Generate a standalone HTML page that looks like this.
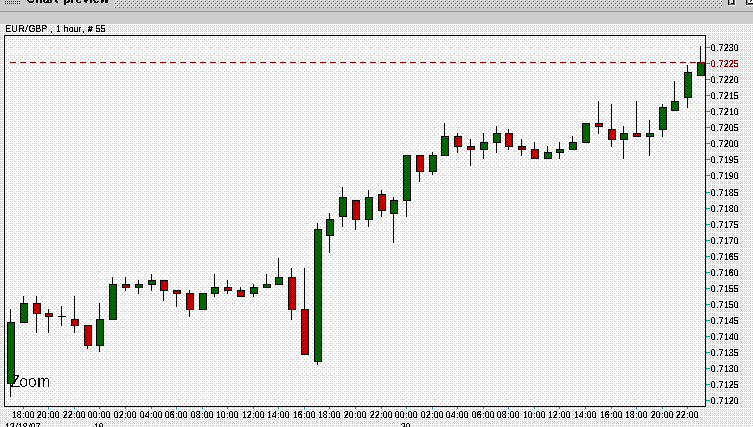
<!DOCTYPE html>
<html lang="en"><head><meta charset="utf-8"><title>Chart preview</title>
<style>html,body{margin:0;padding:0;background:#ccc;overflow:hidden}svg{display:block}text{font-family:"Liberation Sans","DejaVu Sans",sans-serif;fill:#000}.s{font-size:8.6px}.b{font-weight:bold;font-size:12px}.z{font-size:17px}</style></head><body>
<svg width="753" height="427" viewBox="0 0 753 427" shape-rendering="crispEdges">
<defs>
<pattern id="po" width="8" height="8" patternUnits="userSpaceOnUse"><rect width="8" height="8" fill="#fff"/><rect x="0" y="1" width="1" height="1" fill="#ccc"/><rect x="2" y="1" width="1" height="1" fill="#ccc"/><rect x="4" y="1" width="1" height="1" fill="#ccc"/><rect x="6" y="1" width="1" height="1" fill="#ccc"/><rect x="5" y="2" width="1" height="1" fill="#ccc"/><rect x="0" y="3" width="1" height="1" fill="#ccc"/><rect x="2" y="3" width="1" height="1" fill="#ccc"/><rect x="4" y="3" width="1" height="1" fill="#ccc"/><rect x="6" y="3" width="1" height="1" fill="#ccc"/><rect x="0" y="5" width="1" height="1" fill="#ccc"/><rect x="2" y="5" width="1" height="1" fill="#ccc"/><rect x="4" y="5" width="1" height="1" fill="#ccc"/><rect x="6" y="5" width="1" height="1" fill="#ccc"/><rect x="1" y="6" width="1" height="1" fill="#ccc"/><rect x="5" y="6" width="1" height="1" fill="#ccc"/><rect x="0" y="7" width="1" height="1" fill="#ccc"/><rect x="2" y="7" width="1" height="1" fill="#ccc"/><rect x="4" y="7" width="1" height="1" fill="#ccc"/><rect x="6" y="7" width="1" height="1" fill="#ccc"/></pattern>
<pattern id="pi" width="8" height="8" patternUnits="userSpaceOnUse"><rect width="8" height="8" fill="#fff"/><rect x="2" y="1" width="1" height="1" fill="#ccc"/><rect x="6" y="1" width="1" height="1" fill="#ccc"/><rect x="0" y="3" width="1" height="1" fill="#ccc"/><rect x="4" y="3" width="1" height="1" fill="#ccc"/><rect x="2" y="5" width="1" height="1" fill="#ccc"/><rect x="6" y="5" width="1" height="1" fill="#ccc"/><rect x="0" y="7" width="1" height="1" fill="#ccc"/><rect x="2" y="7" width="1" height="1" fill="#ccc"/><rect x="4" y="7" width="1" height="1" fill="#ccc"/></pattern>
<pattern id="pr" width="2" height="2" patternUnits="userSpaceOnUse"><rect width="2" height="2" fill="#c00"/><rect x="1" y="0" width="1" height="1" fill="#900"/><rect x="0" y="1" width="1" height="1" fill="#900"/></pattern>
<pattern id="pb" width="4" height="4" patternUnits="userSpaceOnUse"><rect width="4" height="4" fill="#ccc"/><rect x="0" y="0" width="1" height="1" fill="#fff"/><rect x="2" y="2" width="1" height="1" fill="#fff"/><rect x="1" y="1" width="1" height="1" fill="#666"/><rect x="3" y="3" width="1" height="1" fill="#666"/></pattern>
<filter id="t" filterUnits="userSpaceOnUse" x="0" y="0" width="753" height="427" color-interpolation-filters="sRGB"><feComponentTransfer><feFuncA type="discrete" tableValues="0 0 1 1 1 1"/></feComponentTransfer></filter>
<filter id="t3" filterUnits="userSpaceOnUse" x="0" y="0" width="200" height="12" color-interpolation-filters="sRGB"><feComponentTransfer><feFuncA type="discrete" tableValues="0 0 1 1 1"/></feComponentTransfer></filter>
<filter id="t2" filterUnits="userSpaceOnUse" x="0" y="360" width="80" height="40" color-interpolation-filters="sRGB"><feComponentTransfer><feFuncA type="discrete" tableValues="0 0 0 1 1"/></feComponentTransfer></filter>
</defs>
<rect x="0" y="0" width="753" height="24" fill="#ccc"/>
<rect x="0" y="11" width="753" height="1" fill="#999"/>
<rect x="5" y="1" width="1" height="1" fill="#333"/>
<rect x="7" y="1" width="1" height="1" fill="#333"/>
<rect x="9" y="1" width="1" height="1" fill="#333"/>
<rect x="11" y="1" width="1" height="1" fill="#333"/>
<rect x="13" y="1" width="1" height="1" fill="#333"/>
<rect x="15" y="1" width="1" height="1" fill="#333"/>
<rect x="17" y="1" width="1" height="1" fill="#333"/>
<rect x="19" y="1" width="1" height="1" fill="#333"/>
<rect x="5" y="3" width="1" height="1" fill="#333"/>
<rect x="7" y="3" width="1" height="1" fill="#333"/>
<rect x="9" y="3" width="1" height="1" fill="#333"/>
<rect x="11" y="3" width="1" height="1" fill="#333"/>
<rect x="13" y="3" width="1" height="1" fill="#333"/>
<rect x="15" y="3" width="1" height="1" fill="#333"/>
<rect x="17" y="3" width="1" height="1" fill="#333"/>
<rect x="19" y="3" width="1" height="1" fill="#333"/>
<rect x="114" y="0" width="608" height="8" fill="url(#pb)"/>
<rect x="728" y="0" width="1" height="5" fill="#000"/><rect x="729" y="0" width="1" height="4" fill="#999"/><rect x="730" y="0" width="3" height="3" fill="#fff"/><rect x="731" y="1" width="1" height="1" fill="#ccc"/><rect x="730" y="3" width="1" height="1" fill="#999"/><rect x="731" y="3" width="3" height="1" fill="#000"/><rect x="733" y="0" width="1" height="3" fill="#000"/><rect x="734" y="0" width="1" height="5" fill="#666"/><rect x="729" y="4" width="5" height="1" fill="#666"/><rect x="735" y="0" width="1" height="6" fill="#fff"/><rect x="729" y="5" width="6" height="1" fill="#fff"/>
<rect x="746" y="0" width="1" height="5" fill="#000"/><rect x="747" y="0" width="1" height="4" fill="#999"/><rect x="748" y="0" width="5" height="3" fill="#fff"/><rect x="750" y="0" width="2" height="1" fill="#444"/><rect x="750" y="1" width="1" height="1" fill="#666"/><rect x="748" y="3" width="5" height="1" fill="#000"/><rect x="747" y="4" width="6" height="1" fill="#666"/><rect x="747" y="5" width="6" height="1" fill="#fff"/>
<rect x="0" y="24" width="753" height="403" fill="url(#po)"/>
<rect x="4" y="35" width="702" height="372" fill="#000"/>
<rect x="5" y="36" width="700" height="370" fill="url(#pi)"/>
<rect x="10" y="309" width="1" height="13" fill="#000"/>
<rect x="10" y="384" width="1" height="13" fill="#000"/>
<rect x="7" y="322" width="8" height="62" fill="#000"/>
<rect x="8" y="323" width="6" height="60" fill="#060"/>
<rect x="23" y="296" width="1" height="7" fill="#000"/>
<rect x="20" y="303" width="8" height="20" fill="#000"/>
<rect x="21" y="304" width="6" height="18" fill="#060"/>
<rect x="36" y="296" width="1" height="7" fill="#000"/>
<rect x="36" y="314" width="1" height="19" fill="#000"/>
<rect x="33" y="303" width="8" height="11" fill="#000"/>
<rect x="34" y="304" width="6" height="9" fill="url(#pr)"/>
<rect x="48" y="309" width="1" height="4" fill="#000"/>
<rect x="48" y="317" width="1" height="16" fill="#000"/>
<rect x="45" y="313" width="8" height="4" fill="#000"/>
<rect x="46" y="314" width="6" height="2" fill="url(#pr)"/>
<rect x="61" y="306" width="1" height="10" fill="#000"/>
<rect x="61" y="317" width="1" height="9" fill="#000"/>
<rect x="58" y="316" width="8" height="1" fill="#000"/>
<rect x="74" y="296" width="1" height="23" fill="#000"/>
<rect x="74" y="326" width="1" height="7" fill="#000"/>
<rect x="71" y="319" width="8" height="7" fill="#000"/>
<rect x="72" y="320" width="6" height="5" fill="url(#pr)"/>
<rect x="87" y="346" width="1" height="3" fill="#000"/>
<rect x="84" y="325" width="8" height="21" fill="#000"/>
<rect x="85" y="326" width="6" height="19" fill="url(#pr)"/>
<rect x="99" y="303" width="1" height="16" fill="#000"/>
<rect x="99" y="346" width="1" height="6" fill="#000"/>
<rect x="96" y="319" width="8" height="27" fill="#000"/>
<rect x="97" y="320" width="6" height="25" fill="#060"/>
<rect x="112" y="277" width="1" height="7" fill="#000"/>
<rect x="109" y="284" width="8" height="36" fill="#000"/>
<rect x="110" y="285" width="6" height="34" fill="#060"/>
<rect x="125" y="277" width="1" height="7" fill="#000"/>
<rect x="125" y="288" width="1" height="3" fill="#000"/>
<rect x="122" y="284" width="8" height="4" fill="#000"/>
<rect x="123" y="285" width="6" height="2" fill="url(#pr)"/>
<rect x="138" y="280" width="1" height="4" fill="#000"/>
<rect x="138" y="288" width="1" height="6" fill="#000"/>
<rect x="135" y="284" width="8" height="4" fill="#000"/>
<rect x="136" y="285" width="6" height="2" fill="#060"/>
<rect x="151" y="274" width="1" height="6" fill="#000"/>
<rect x="151" y="285" width="1" height="6" fill="#000"/>
<rect x="148" y="280" width="8" height="5" fill="#000"/>
<rect x="149" y="281" width="6" height="3" fill="#060"/>
<rect x="163" y="291" width="1" height="10" fill="#000"/>
<rect x="160" y="280" width="8" height="11" fill="#000"/>
<rect x="161" y="281" width="6" height="9" fill="url(#pr)"/>
<rect x="176" y="294" width="1" height="13" fill="#000"/>
<rect x="173" y="290" width="8" height="4" fill="#000"/>
<rect x="174" y="291" width="6" height="2" fill="url(#pr)"/>
<rect x="189" y="290" width="1" height="3" fill="#000"/>
<rect x="189" y="310" width="1" height="7" fill="#000"/>
<rect x="186" y="293" width="8" height="17" fill="#000"/>
<rect x="187" y="294" width="6" height="15" fill="url(#pr)"/>
<rect x="199" y="293" width="8" height="17" fill="#000"/>
<rect x="200" y="294" width="6" height="15" fill="#060"/>
<rect x="214" y="274" width="1" height="13" fill="#000"/>
<rect x="214" y="294" width="1" height="3" fill="#000"/>
<rect x="211" y="287" width="8" height="7" fill="#000"/>
<rect x="212" y="288" width="6" height="5" fill="#060"/>
<rect x="227" y="280" width="1" height="7" fill="#000"/>
<rect x="227" y="291" width="1" height="3" fill="#000"/>
<rect x="224" y="287" width="8" height="4" fill="#000"/>
<rect x="225" y="288" width="6" height="2" fill="url(#pr)"/>
<rect x="240" y="287" width="1" height="3" fill="#000"/>
<rect x="237" y="290" width="8" height="7" fill="#000"/>
<rect x="238" y="291" width="6" height="5" fill="url(#pr)"/>
<rect x="253" y="284" width="1" height="3" fill="#000"/>
<rect x="253" y="294" width="1" height="3" fill="#000"/>
<rect x="250" y="287" width="8" height="7" fill="#000"/>
<rect x="251" y="288" width="6" height="5" fill="#060"/>
<rect x="266" y="274" width="1" height="10" fill="#000"/>
<rect x="263" y="284" width="8" height="4" fill="#000"/>
<rect x="264" y="285" width="6" height="2" fill="#060"/>
<rect x="278" y="258" width="1" height="19" fill="#000"/>
<rect x="275" y="277" width="8" height="8" fill="#000"/>
<rect x="276" y="278" width="6" height="6" fill="#060"/>
<rect x="291" y="268" width="1" height="9" fill="#000"/>
<rect x="291" y="310" width="1" height="10" fill="#000"/>
<rect x="288" y="277" width="8" height="33" fill="#000"/>
<rect x="289" y="278" width="6" height="31" fill="url(#pr)"/>
<rect x="304" y="268" width="1" height="41" fill="#000"/>
<rect x="301" y="309" width="8" height="46" fill="#000"/>
<rect x="302" y="310" width="6" height="44" fill="url(#pr)"/>
<rect x="317" y="223" width="1" height="6" fill="#000"/>
<rect x="317" y="362" width="1" height="3" fill="#000"/>
<rect x="314" y="229" width="8" height="133" fill="#000"/>
<rect x="315" y="230" width="6" height="131" fill="#060"/>
<rect x="329" y="213" width="1" height="6" fill="#000"/>
<rect x="329" y="236" width="1" height="17" fill="#000"/>
<rect x="326" y="219" width="8" height="17" fill="#000"/>
<rect x="327" y="220" width="6" height="15" fill="#060"/>
<rect x="342" y="187" width="1" height="10" fill="#000"/>
<rect x="342" y="217" width="1" height="10" fill="#000"/>
<rect x="339" y="197" width="8" height="20" fill="#000"/>
<rect x="340" y="198" width="6" height="18" fill="#060"/>
<rect x="355" y="220" width="1" height="10" fill="#000"/>
<rect x="352" y="200" width="8" height="20" fill="#000"/>
<rect x="353" y="201" width="6" height="18" fill="url(#pr)"/>
<rect x="368" y="190" width="1" height="7" fill="#000"/>
<rect x="368" y="220" width="1" height="7" fill="#000"/>
<rect x="365" y="197" width="8" height="23" fill="#000"/>
<rect x="366" y="198" width="6" height="21" fill="#060"/>
<rect x="381" y="190" width="1" height="4" fill="#000"/>
<rect x="381" y="211" width="1" height="6" fill="#000"/>
<rect x="378" y="194" width="8" height="17" fill="#000"/>
<rect x="379" y="195" width="6" height="15" fill="url(#pr)"/>
<rect x="393" y="197" width="1" height="3" fill="#000"/>
<rect x="393" y="214" width="1" height="29" fill="#000"/>
<rect x="390" y="200" width="8" height="14" fill="#000"/>
<rect x="391" y="201" width="6" height="12" fill="#060"/>
<rect x="406" y="201" width="1" height="16" fill="#000"/>
<rect x="403" y="155" width="8" height="46" fill="#000"/>
<rect x="404" y="156" width="6" height="44" fill="#060"/>
<rect x="419" y="172" width="1" height="10" fill="#000"/>
<rect x="416" y="155" width="8" height="17" fill="#000"/>
<rect x="417" y="156" width="6" height="15" fill="url(#pr)"/>
<rect x="432" y="152" width="1" height="3" fill="#000"/>
<rect x="432" y="172" width="1" height="3" fill="#000"/>
<rect x="429" y="155" width="8" height="17" fill="#000"/>
<rect x="430" y="156" width="6" height="15" fill="#060"/>
<rect x="444" y="123" width="1" height="13" fill="#000"/>
<rect x="441" y="136" width="8" height="20" fill="#000"/>
<rect x="442" y="137" width="6" height="18" fill="#060"/>
<rect x="457" y="133" width="1" height="3" fill="#000"/>
<rect x="457" y="147" width="1" height="6" fill="#000"/>
<rect x="454" y="136" width="8" height="11" fill="#000"/>
<rect x="455" y="137" width="6" height="9" fill="url(#pr)"/>
<rect x="470" y="139" width="1" height="7" fill="#000"/>
<rect x="470" y="150" width="1" height="16" fill="#000"/>
<rect x="467" y="146" width="8" height="4" fill="#000"/>
<rect x="468" y="147" width="6" height="2" fill="url(#pr)"/>
<rect x="483" y="133" width="1" height="9" fill="#000"/>
<rect x="483" y="150" width="1" height="9" fill="#000"/>
<rect x="480" y="142" width="8" height="8" fill="#000"/>
<rect x="481" y="143" width="6" height="6" fill="#060"/>
<rect x="496" y="126" width="1" height="7" fill="#000"/>
<rect x="496" y="143" width="1" height="10" fill="#000"/>
<rect x="493" y="133" width="8" height="10" fill="#000"/>
<rect x="494" y="134" width="6" height="8" fill="#060"/>
<rect x="508" y="129" width="1" height="4" fill="#000"/>
<rect x="508" y="147" width="1" height="3" fill="#000"/>
<rect x="505" y="133" width="8" height="14" fill="#000"/>
<rect x="506" y="134" width="6" height="12" fill="url(#pr)"/>
<rect x="521" y="139" width="1" height="7" fill="#000"/>
<rect x="521" y="150" width="1" height="6" fill="#000"/>
<rect x="518" y="146" width="8" height="4" fill="#000"/>
<rect x="519" y="147" width="6" height="2" fill="url(#pr)"/>
<rect x="534" y="142" width="1" height="7" fill="#000"/>
<rect x="531" y="149" width="8" height="10" fill="#000"/>
<rect x="532" y="150" width="6" height="8" fill="url(#pr)"/>
<rect x="547" y="146" width="1" height="6" fill="#000"/>
<rect x="544" y="152" width="8" height="7" fill="#000"/>
<rect x="545" y="153" width="6" height="5" fill="#060"/>
<rect x="559" y="142" width="1" height="7" fill="#000"/>
<rect x="559" y="153" width="1" height="6" fill="#000"/>
<rect x="556" y="149" width="8" height="4" fill="#000"/>
<rect x="557" y="150" width="6" height="2" fill="#060"/>
<rect x="572" y="136" width="1" height="6" fill="#000"/>
<rect x="569" y="142" width="8" height="8" fill="#000"/>
<rect x="570" y="143" width="6" height="6" fill="#060"/>
<rect x="582" y="123" width="8" height="20" fill="#000"/>
<rect x="583" y="124" width="6" height="18" fill="#060"/>
<rect x="598" y="101" width="1" height="22" fill="#000"/>
<rect x="598" y="127" width="1" height="7" fill="#000"/>
<rect x="595" y="123" width="8" height="4" fill="#000"/>
<rect x="596" y="124" width="6" height="2" fill="url(#pr)"/>
<rect x="611" y="104" width="1" height="25" fill="#000"/>
<rect x="611" y="140" width="1" height="7" fill="#000"/>
<rect x="608" y="129" width="8" height="11" fill="#000"/>
<rect x="609" y="130" width="6" height="9" fill="url(#pr)"/>
<rect x="623" y="126" width="1" height="7" fill="#000"/>
<rect x="623" y="140" width="1" height="19" fill="#000"/>
<rect x="620" y="133" width="8" height="7" fill="#000"/>
<rect x="621" y="134" width="6" height="5" fill="#060"/>
<rect x="636" y="101" width="1" height="32" fill="#000"/>
<rect x="633" y="133" width="8" height="4" fill="#000"/>
<rect x="634" y="134" width="6" height="2" fill="url(#pr)"/>
<rect x="649" y="120" width="1" height="13" fill="#000"/>
<rect x="649" y="137" width="1" height="19" fill="#000"/>
<rect x="646" y="133" width="8" height="4" fill="#000"/>
<rect x="647" y="134" width="6" height="2" fill="#060"/>
<rect x="662" y="104" width="1" height="3" fill="#000"/>
<rect x="662" y="130" width="1" height="7" fill="#000"/>
<rect x="659" y="107" width="8" height="23" fill="#000"/>
<rect x="660" y="108" width="6" height="21" fill="#060"/>
<rect x="674" y="81" width="1" height="20" fill="#000"/>
<rect x="671" y="101" width="8" height="10" fill="#000"/>
<rect x="672" y="102" width="6" height="8" fill="#060"/>
<rect x="687" y="65" width="1" height="7" fill="#000"/>
<rect x="687" y="98" width="1" height="10" fill="#000"/>
<rect x="684" y="72" width="8" height="26" fill="#000"/>
<rect x="685" y="73" width="6" height="24" fill="#060"/>
<rect x="700" y="46" width="1" height="16" fill="#000"/>
<rect x="697" y="62" width="8" height="14" fill="#000"/>
<rect x="698" y="63" width="6" height="12" fill="#060"/>
<rect x="10" y="62" width="6" height="1" fill="#900"/>
<rect x="20" y="62" width="6" height="1" fill="#900"/>
<rect x="30" y="62" width="6" height="1" fill="#900"/>
<rect x="40" y="62" width="6" height="1" fill="#900"/>
<rect x="50" y="62" width="6" height="1" fill="#900"/>
<rect x="60" y="62" width="6" height="1" fill="#900"/>
<rect x="70" y="62" width="6" height="1" fill="#900"/>
<rect x="80" y="62" width="6" height="1" fill="#900"/>
<rect x="90" y="62" width="6" height="1" fill="#900"/>
<rect x="100" y="62" width="6" height="1" fill="#900"/>
<rect x="110" y="62" width="6" height="1" fill="#900"/>
<rect x="120" y="62" width="6" height="1" fill="#900"/>
<rect x="130" y="62" width="6" height="1" fill="#900"/>
<rect x="140" y="62" width="6" height="1" fill="#900"/>
<rect x="150" y="62" width="6" height="1" fill="#900"/>
<rect x="160" y="62" width="6" height="1" fill="#900"/>
<rect x="170" y="62" width="6" height="1" fill="#900"/>
<rect x="180" y="62" width="6" height="1" fill="#900"/>
<rect x="190" y="62" width="6" height="1" fill="#900"/>
<rect x="200" y="62" width="6" height="1" fill="#900"/>
<rect x="210" y="62" width="6" height="1" fill="#900"/>
<rect x="220" y="62" width="6" height="1" fill="#900"/>
<rect x="230" y="62" width="6" height="1" fill="#900"/>
<rect x="240" y="62" width="6" height="1" fill="#900"/>
<rect x="250" y="62" width="6" height="1" fill="#900"/>
<rect x="260" y="62" width="6" height="1" fill="#900"/>
<rect x="270" y="62" width="6" height="1" fill="#900"/>
<rect x="280" y="62" width="6" height="1" fill="#900"/>
<rect x="290" y="62" width="6" height="1" fill="#900"/>
<rect x="300" y="62" width="6" height="1" fill="#900"/>
<rect x="310" y="62" width="6" height="1" fill="#900"/>
<rect x="320" y="62" width="6" height="1" fill="#900"/>
<rect x="330" y="62" width="6" height="1" fill="#900"/>
<rect x="340" y="62" width="6" height="1" fill="#900"/>
<rect x="350" y="62" width="6" height="1" fill="#900"/>
<rect x="360" y="62" width="6" height="1" fill="#900"/>
<rect x="370" y="62" width="6" height="1" fill="#900"/>
<rect x="380" y="62" width="6" height="1" fill="#900"/>
<rect x="390" y="62" width="6" height="1" fill="#900"/>
<rect x="400" y="62" width="6" height="1" fill="#900"/>
<rect x="410" y="62" width="6" height="1" fill="#900"/>
<rect x="420" y="62" width="6" height="1" fill="#900"/>
<rect x="430" y="62" width="6" height="1" fill="#900"/>
<rect x="440" y="62" width="6" height="1" fill="#900"/>
<rect x="450" y="62" width="6" height="1" fill="#900"/>
<rect x="460" y="62" width="6" height="1" fill="#900"/>
<rect x="470" y="62" width="6" height="1" fill="#900"/>
<rect x="480" y="62" width="6" height="1" fill="#900"/>
<rect x="490" y="62" width="6" height="1" fill="#900"/>
<rect x="500" y="62" width="6" height="1" fill="#900"/>
<rect x="510" y="62" width="6" height="1" fill="#900"/>
<rect x="520" y="62" width="6" height="1" fill="#900"/>
<rect x="530" y="62" width="6" height="1" fill="#900"/>
<rect x="540" y="62" width="6" height="1" fill="#900"/>
<rect x="550" y="62" width="6" height="1" fill="#900"/>
<rect x="560" y="62" width="6" height="1" fill="#900"/>
<rect x="570" y="62" width="6" height="1" fill="#900"/>
<rect x="580" y="62" width="6" height="1" fill="#900"/>
<rect x="590" y="62" width="6" height="1" fill="#900"/>
<rect x="600" y="62" width="6" height="1" fill="#900"/>
<rect x="610" y="62" width="6" height="1" fill="#900"/>
<rect x="620" y="62" width="6" height="1" fill="#900"/>
<rect x="630" y="62" width="6" height="1" fill="#900"/>
<rect x="640" y="62" width="6" height="1" fill="#900"/>
<rect x="650" y="62" width="6" height="1" fill="#900"/>
<rect x="660" y="62" width="6" height="1" fill="#900"/>
<rect x="670" y="62" width="6" height="1" fill="#900"/>
<rect x="680" y="62" width="6" height="1" fill="#900"/>
<rect x="690" y="62" width="6" height="1" fill="#900"/>
<rect x="700" y="62" width="5" height="1" fill="#900"/>
<rect x="706" y="47" width="4" height="1" fill="#099"/>
<rect x="706" y="63" width="4" height="1" fill="#099"/>
<rect x="706" y="79" width="4" height="1" fill="#099"/>
<rect x="706" y="95" width="4" height="1" fill="#099"/>
<rect x="706" y="111" width="4" height="1" fill="#099"/>
<rect x="706" y="127" width="4" height="1" fill="#099"/>
<rect x="706" y="143" width="4" height="1" fill="#099"/>
<rect x="706" y="159" width="4" height="1" fill="#099"/>
<rect x="706" y="175" width="4" height="1" fill="#099"/>
<rect x="706" y="192" width="4" height="1" fill="#099"/>
<rect x="706" y="208" width="4" height="1" fill="#099"/>
<rect x="706" y="224" width="4" height="1" fill="#099"/>
<rect x="706" y="240" width="4" height="1" fill="#099"/>
<rect x="706" y="256" width="4" height="1" fill="#099"/>
<rect x="706" y="272" width="4" height="1" fill="#099"/>
<rect x="706" y="288" width="4" height="1" fill="#099"/>
<rect x="706" y="304" width="4" height="1" fill="#099"/>
<rect x="706" y="320" width="4" height="1" fill="#099"/>
<rect x="706" y="336" width="4" height="1" fill="#099"/>
<rect x="706" y="352" width="4" height="1" fill="#099"/>
<rect x="706" y="368" width="4" height="1" fill="#099"/>
<rect x="706" y="384" width="4" height="1" fill="#099"/>
<rect x="706" y="400" width="4" height="1" fill="#099"/>
<rect x="23" y="407" width="1" height="2" fill="#099"/>
<rect x="48" y="407" width="1" height="2" fill="#099"/>
<rect x="74" y="407" width="1" height="2" fill="#099"/>
<rect x="99" y="407" width="1" height="2" fill="#099"/>
<rect x="125" y="407" width="1" height="2" fill="#099"/>
<rect x="151" y="407" width="1" height="2" fill="#099"/>
<rect x="176" y="407" width="1" height="2" fill="#099"/>
<rect x="202" y="407" width="1" height="2" fill="#099"/>
<rect x="227" y="407" width="1" height="2" fill="#099"/>
<rect x="253" y="407" width="1" height="2" fill="#099"/>
<rect x="278" y="407" width="1" height="2" fill="#099"/>
<rect x="304" y="407" width="1" height="2" fill="#099"/>
<rect x="329" y="407" width="1" height="2" fill="#099"/>
<rect x="355" y="407" width="1" height="2" fill="#099"/>
<rect x="381" y="407" width="1" height="2" fill="#099"/>
<rect x="406" y="407" width="1" height="2" fill="#099"/>
<rect x="432" y="407" width="1" height="2" fill="#099"/>
<rect x="457" y="407" width="1" height="2" fill="#099"/>
<rect x="483" y="407" width="1" height="2" fill="#099"/>
<rect x="508" y="407" width="1" height="2" fill="#099"/>
<rect x="534" y="407" width="1" height="2" fill="#099"/>
<rect x="559" y="407" width="1" height="2" fill="#099"/>
<rect x="585" y="407" width="1" height="2" fill="#099"/>
<rect x="611" y="407" width="1" height="2" fill="#099"/>
<rect x="636" y="407" width="1" height="2" fill="#099"/>
<rect x="662" y="407" width="1" height="2" fill="#099"/>
<rect x="687" y="407" width="1" height="2" fill="#099"/>
<g filter="url(#t)">
<text class="s" transform="translate(0,32) matrix(1,0,0.001,1.16,0,0)" x="5.39 11.44 18.39 25.1 28.67 35.39 41.39 43.39 50.33 52.33 55.95 57.95 63.5 68.74 73.54 78.53 82.33 84.33 88.06 90.06 95.76 100.76" y="0" rotate="0 0 0 7 0 0 0 0 0 0 0 0 0 0 0 0 0 0 0 0 0 0">EUR/GBP , 1 hour, <tspan style="font-weight:bold">#</tspan> 55</text>
<text class="s" transform="translate(0,51) matrix(1,0,0.001,1.16,0,0)" x="710.76 716.31 718.66 723.67 728.77 733.76" y="0">0.7230</text>
<text class="s" transform="translate(0,67) matrix(1,0,0.001,1.16,0,0)" x="710.76 716.31 718.66 723.67 728.67 733.76" y="0" style="fill:#900">0.7225</text>
<text class="s" transform="translate(0,83) matrix(1,0,0.001,1.16,0,0)" x="710.76 716.31 718.66 723.67 728.67 733.76" y="0">0.7220</text>
<text class="s" transform="translate(0,99) matrix(1,0,0.001,1.16,0,0)" x="710.76 716.31 718.66 723.67 728.95 733.76" y="0">0.7215</text>
<text class="s" transform="translate(0,115) matrix(1,0,0.001,1.16,0,0)" x="710.76 716.31 718.66 723.67 728.95 733.76" y="0">0.7210</text>
<text class="s" transform="translate(0,131) matrix(1,0,0.001,1.16,0,0)" x="710.76 716.31 718.66 723.67 728.76 733.76" y="0">0.7205</text>
<text class="s" transform="translate(0,147) matrix(1,0,0.001,1.16,0,0)" x="710.76 716.31 718.66 723.67 728.76 733.76" y="0">0.7200</text>
<text class="s" transform="translate(0,163) matrix(1,0,0.001,1.16,0,0)" x="710.76 716.31 718.66 723.95 728.7 733.76" y="0">0.7195</text>
<text class="s" transform="translate(0,179) matrix(1,0,0.001,1.16,0,0)" x="710.76 716.31 718.66 723.95 728.7 733.76" y="0">0.7190</text>
<text class="s" transform="translate(0,196) matrix(1,0,0.001,1.16,0,0)" x="710.76 716.31 718.66 723.95 728.73 733.76" y="0">0.7185</text>
<text class="s" transform="translate(0,212) matrix(1,0,0.001,1.16,0,0)" x="710.76 716.31 718.66 723.95 728.73 733.76" y="0">0.7180</text>
<text class="s" transform="translate(0,228) matrix(1,0,0.001,1.16,0,0)" x="710.76 716.31 718.66 723.95 728.66 733.76" y="0">0.7175</text>
<text class="s" transform="translate(0,244) matrix(1,0,0.001,1.16,0,0)" x="710.76 716.31 718.66 723.95 728.66 733.76" y="0">0.7170</text>
<text class="s" transform="translate(0,260) matrix(1,0,0.001,1.16,0,0)" x="710.76 716.31 718.66 723.95 728.66 733.76" y="0">0.7165</text>
<text class="s" transform="translate(0,276) matrix(1,0,0.001,1.16,0,0)" x="710.76 716.31 718.66 723.95 728.66 733.76" y="0">0.7160</text>
<text class="s" transform="translate(0,292) matrix(1,0,0.001,1.16,0,0)" x="710.76 716.31 718.66 723.95 728.76 733.76" y="0">0.7155</text>
<text class="s" transform="translate(0,308) matrix(1,0,0.001,1.16,0,0)" x="710.76 716.31 718.66 723.95 728.76 733.76" y="0">0.7150</text>
<text class="s" transform="translate(0,324) matrix(1,0,0.001,1.16,0,0)" x="710.76 716.31 718.66 723.95 728.9 733.76" y="0">0.7145</text>
<text class="s" transform="translate(0,340) matrix(1,0,0.001,1.16,0,0)" x="710.76 716.31 718.66 723.95 728.9 733.76" y="0">0.7140</text>
<text class="s" transform="translate(0,356) matrix(1,0,0.001,1.16,0,0)" x="710.76 716.31 718.66 723.95 728.77 733.76" y="0">0.7135</text>
<text class="s" transform="translate(0,372) matrix(1,0,0.001,1.16,0,0)" x="710.76 716.31 718.66 723.95 728.77 733.76" y="0">0.7130</text>
<text class="s" transform="translate(0,388) matrix(1,0,0.001,1.16,0,0)" x="710.76 716.31 718.66 723.95 728.67 733.76" y="0">0.7125</text>
<text class="s" transform="translate(0,404) matrix(1,0,0.001,1.16,0,0)" x="710.76 716.31 718.66 723.95 728.67 733.76" y="0">0.7120</text>
<text class="s" transform="translate(0,418) matrix(1,0,0.001,1.16,0,0)" x="11.95 16.73 22.31 24.76 29.76" y="0">18:00</text>
<text class="s" transform="translate(0,418) matrix(1,0,0.001,1.16,0,0)" x="36.67 41.76 47.31 49.76 54.76" y="0">20:00</text>
<text class="s" transform="translate(0,418) matrix(1,0,0.001,1.16,0,0)" x="62.67 67.67 73.31 75.76 80.76" y="0">22:00</text>
<text class="s" transform="translate(0,418) matrix(1,0,0.001,1.16,0,0)" x="87.76 92.76 98.31 100.76 105.76" y="0">00:00</text>
<text class="s" transform="translate(0,418) matrix(1,0,0.001,1.16,0,0)" x="113.76 118.67 124.31 126.76 131.76" y="0">02:00</text>
<text class="s" transform="translate(0,418) matrix(1,0,0.001,1.16,0,0)" x="139.76 144.9 150.31 152.76 157.76" y="0">04:00</text>
<text class="s" transform="translate(0,418) matrix(1,0,0.001,1.16,0,0)" x="164.76 169.66 175.31 177.76 182.76" y="0">06:00</text>
<text class="s" transform="translate(0,418) matrix(1,0,0.001,1.16,0,0)" x="190.76 195.73 201.31 203.76 208.76" y="0">08:00</text>
<text class="s" transform="translate(0,418) matrix(1,0,0.001,1.16,0,0)" x="215.95 220.76 226.31 228.76 233.76" y="0">10:00</text>
<text class="s" transform="translate(0,418) matrix(1,0,0.001,1.16,0,0)" x="241.95 246.67 252.31 254.76 259.76" y="0">12:00</text>
<text class="s" transform="translate(0,418) matrix(1,0,0.001,1.16,0,0)" x="266.95 271.9 277.31 279.76 284.76" y="0">14:00</text>
<text class="s" transform="translate(0,418) matrix(1,0,0.001,1.16,0,0)" x="292.95 297.66 303.31 305.76 310.76" y="0">16:00</text>
<text class="s" transform="translate(0,418) matrix(1,0,0.001,1.16,0,0)" x="317.95 322.73 328.31 330.76 335.76" y="0">18:00</text>
<text class="s" transform="translate(0,418) matrix(1,0,0.001,1.16,0,0)" x="343.67 348.76 354.31 356.76 361.76" y="0">20:00</text>
<text class="s" transform="translate(0,418) matrix(1,0,0.001,1.16,0,0)" x="369.67 374.67 380.31 382.76 387.76" y="0">22:00</text>
<text class="s" transform="translate(0,418) matrix(1,0,0.001,1.16,0,0)" x="394.76 399.76 405.31 407.76 412.76" y="0">00:00</text>
<text class="s" transform="translate(0,418) matrix(1,0,0.001,1.16,0,0)" x="420.76 425.67 431.31 433.76 438.76" y="0">02:00</text>
<text class="s" transform="translate(0,418) matrix(1,0,0.001,1.16,0,0)" x="445.76 450.9 456.31 458.76 463.76" y="0">04:00</text>
<text class="s" transform="translate(0,418) matrix(1,0,0.001,1.16,0,0)" x="471.76 476.66 482.31 484.76 489.76" y="0">06:00</text>
<text class="s" transform="translate(0,418) matrix(1,0,0.001,1.16,0,0)" x="496.76 501.73 507.31 509.76 514.76" y="0">08:00</text>
<text class="s" transform="translate(0,418) matrix(1,0,0.001,1.16,0,0)" x="522.95 527.76 533.31 535.76 540.76" y="0">10:00</text>
<text class="s" transform="translate(0,418) matrix(1,0,0.001,1.16,0,0)" x="547.95 552.67 558.31 560.76 565.76" y="0">12:00</text>
<text class="s" transform="translate(0,418) matrix(1,0,0.001,1.16,0,0)" x="573.95 578.9 584.31 586.76 591.76" y="0">14:00</text>
<text class="s" transform="translate(0,418) matrix(1,0,0.001,1.16,0,0)" x="599.95 604.66 610.31 612.76 617.76" y="0">16:00</text>
<text class="s" transform="translate(0,418) matrix(1,0,0.001,1.16,0,0)" x="624.95 629.73 635.31 637.76 642.76" y="0">18:00</text>
<text class="s" transform="translate(0,418) matrix(1,0,0.001,1.16,0,0)" x="650.67 655.76 661.31 663.76 668.76" y="0">20:00</text>
<text class="s" transform="translate(0,418) matrix(1,0,0.001,1.16,0,0)" x="675.67 680.67 686.31 688.76 693.76" y="0">22:00</text>
<text class="s" transform="translate(0,430) matrix(1,0,0.001,1.16,0,0)" x="4.95 9.67 15.1 17.95 22.73 28.1 30.76 35.66" y="0" rotate="0 0 7 0 0 7 0 0">12/18/07</text>
<text class="s" transform="translate(0,430) matrix(1,0,0.001,1.16,0,0)" x="93.95 98.7" y="0">19</text>
<text class="s" transform="translate(0,430) matrix(1,0,0.001,1.16,0,0)" x="400.67 405.76" y="0">20</text>
</g>
<g filter="url(#t3)">
<text class="b" x="26.3" y="3" textLength="82.7" lengthAdjust="spacing">Chart <tspan dx="1">preview</tspan></text>
</g>
<rect x="60" y="5" width="10" height="1" fill="#ccc"/>
<g filter="url(#t2)">
<text class="z" x="10.5" y="387" textLength="40" lengthAdjust="spacingAndGlyphs">Z<tspan dx="-1">oo</tspan><tspan dx="0.6">m</tspan></text>
</g>
</svg></body></html>
